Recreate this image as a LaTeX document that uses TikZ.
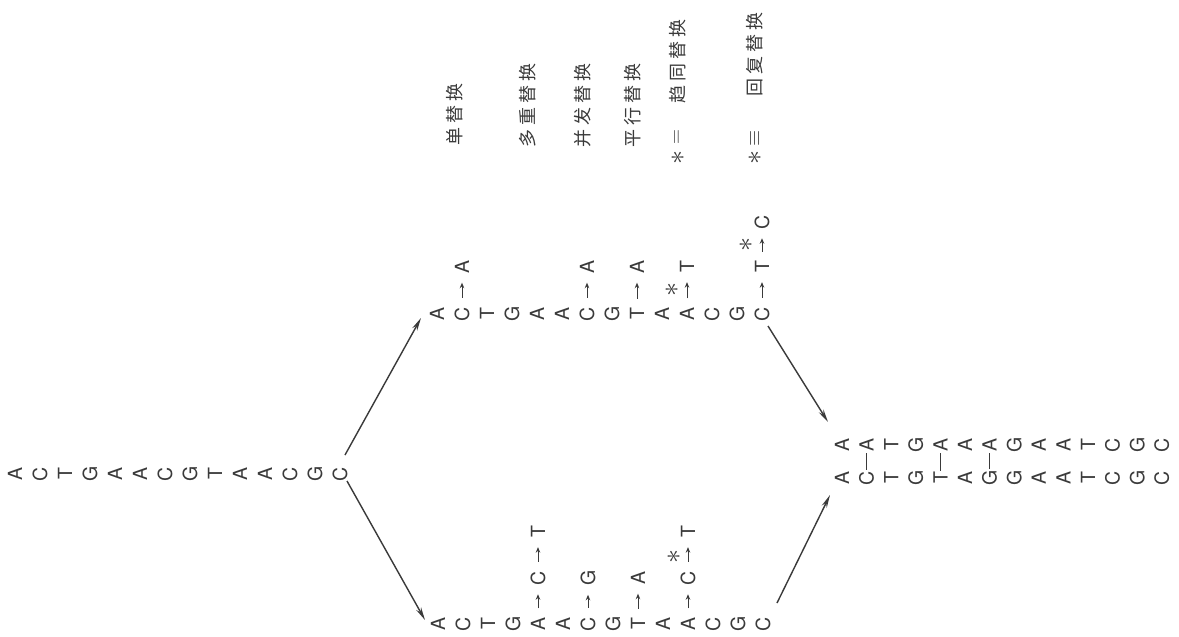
\documentclass[tikz,border=0pt]{standalone}
\usepackage{fontspec}
\setmainfont{TeX Gyre Heros}
\newfontfamily\cjk{Noto Sans CJK SC}
\usetikzlibrary{arrows.meta}
\definecolor{ink}{RGB}{58,58,58}
\newcommand\cg{\hspace{4pt}}
\newcommand\bigast{\scalebox{1.35}{$\ast$}}
\begin{document}
\begin{tikzpicture}[x=1pt,y=-1pt,
  base/.style={font=\fontsize{19.5}{19.5}\selectfont, text=ink, rotate=90, inner sep=1pt},
  star/.style={font=\fontsize{20}{20}\selectfont, text=ink, rotate=90, inner sep=0pt},
  mut/.style={draw=ink, line width=1pt, -{Stealth[length=5.5pt,width=4.5pt]}, shorten <=8pt, shorten >=8pt},
  branch/.style={draw=ink, line width=1.4pt, -{Stealth[length=13pt,width=5.5pt]}},
  link/.style={draw=ink, line width=1pt},
  lab/.style={font=\cjk\fontsize{18}{18}\selectfont, text=ink, rotate=90, anchor=west, inner sep=0pt}]

\fill[white] (0,0) rectangle (1179,637);
\useasboundingbox (0,0) rectangle (1179,637);

% ancestral sequence
\foreach \b [count=\i] in {A,C,T,G,A,A,C,G,T,A,A,C,G,C}
  \node[base] (a\i) at ({15+25*(\i-1)},474) {\b};
% upper branch
\foreach \b [count=\i] in {A,C,T,G,A,A,C,G,T,A,A,C,G,C}
  \node[base] (u\i) at ({437+25*(\i-1)},314) {\b};
% lower branch
\foreach \b [count=\i] in {A,C,T,G,A,A,C,G,T,A,A,C,G,C}
  \node[base] (l\i) at ({438+25*(\i-1)},624) {\b};
% descendants
\foreach \b [count=\i] in {A,A,T,G,A,A,A,G,A,A,T,C,G,C}
  \node[base] (dU\i) at ({842+24.6*(\i-1)},445) {\b};
\foreach \b [count=\i] in {A,C,T,G,T,A,G,G,A,A,T,C,G,C}
  \node[base] (dL\i) at ({842+24.6*(\i-1)},478) {\b};

% upper substitutions
\node[base] (um2) at (462,267) {A};
\node[base] (um7) at (587,267) {A};
\node[base] (um9) at (637,267) {A};
\node[base] (um11) at (687,267) {T};
\node[base] (um14) at (762,267) {T};
\node[base] (umm14) at (762,222) {C};
\node[star] (us11) at (672,289) {\bigast};
\node[star] (us14) at (746,244) {\bigast};
\draw[mut] (u2) -- (um2);
\draw[mut] (u7) -- (um7);
\draw[mut] (u9) -- (um9);
\draw[mut] (u11) -- (um11);
\draw[mut] (u14) -- (um14);
\draw[mut] (um14) -- (umm14);

% lower substitutions
\node[base] (lm5) at (538,578) {C};
\node[base] (lmm5) at (538,532) {T};
\node[base] (lm7) at (588,578) {G};
\node[base] (lm9) at (638,578) {A};
\node[base] (lm11) at (688,578) {C};
\node[base] (lmm11) at (688,532) {T};
\node[star] (ls11) at (674,556) {\bigast};
\draw[mut] (l5) -- (lm5);
\draw[mut] (lm5) -- (lmm5);
\draw[mut] (l7) -- (lm7);
\draw[mut] (l9) -- (lm9);
\draw[mut] (l11) -- (lm11);
\draw[mut] (lm11) -- (lmm11);

% differences between descendants
\draw[link] (dL2.east) -- (dU2.west);
\draw[link] (dL5.east) -- (dU5.west);
\draw[link] (dL7.east) -- (dU7.west);

% branches
\draw[branch] ([shift={(5,-19)}]a14.center) -- ([shift={(-16,4)}]u1.center);
\draw[branch] ([shift={(7,7)}]a14.center) -- ([shift={(-13,-4)}]l1.center);
\draw[branch] ([shift={(6,12)}]u14.center) -- ([shift={(-14,-23)}]dU1.center);
\draw[branch] ([shift={(14,-21)}]l14.center) -- ([shift={(-12,17)}]dL1.center);

% labels
\node[lab] (L1) at (455,146) {单\cg 替\cg 换};
\node[lab] (L2) at (528,148) {多\cg 重\cg 替\cg 换};
\node[lab] (L3) at (583,148) {并\cg 发\cg 替\cg 换};
\node[lab] (L4) at (633,148) {平\cg 行\cg 替\cg 换};
\node[star] (L5s) at (678,157) {\bigast};
\node[star] (L5e) at (678,137) {$=$};
\node[lab] (L5) at (678,104) {趋\cg 同\cg 替\cg 换};
\node[star] (L6s) at (755,157) {\bigast};
\node[star] (L6e) at (755,138) {$\equiv$};
\node[lab] (L6) at (755,97) {回\cg 复\cg 替\cg 换};
\end{tikzpicture}
\end{document}
